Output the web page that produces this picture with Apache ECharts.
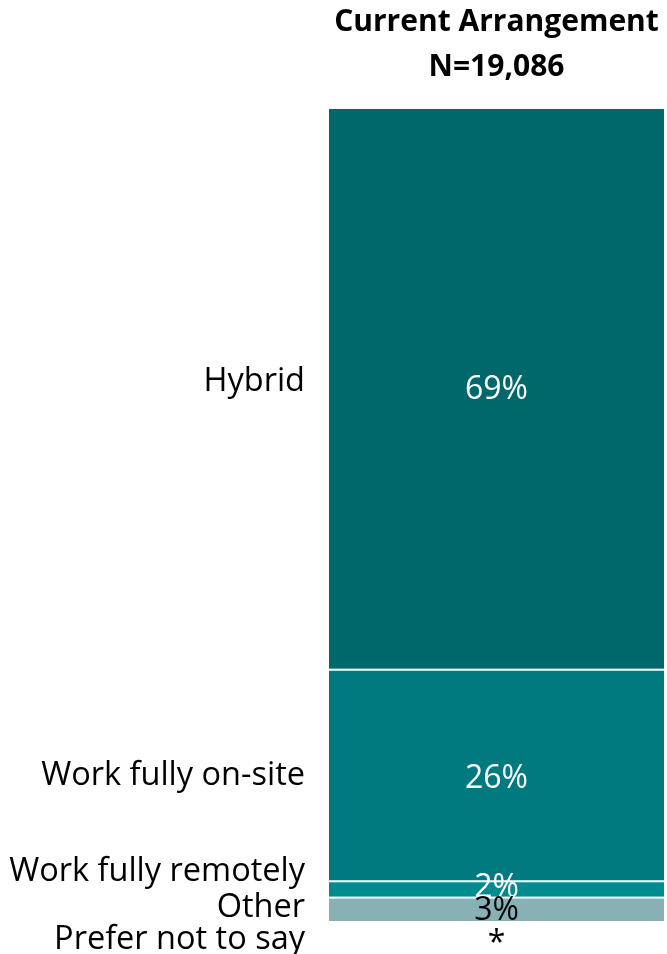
<!DOCTYPE html>
<html>
<head>
<meta charset="utf-8">
<style>
  html, body { margin: 0; padding: 0; background: #ffffff; }
  #chart { width: 667px; height: 954px; }
</style>
<script src="https://cdn.jsdelivr.net/npm/echarts@6/dist/echarts.min.js"></script>
</head>
<body>
<div id="chart"></div>
<script>
// Survey responses: current working arrangement
const columnTitle = 'Current Arrangement\nN=19,086';
const categories = ['Hybrid', 'Work fully on-site', 'Work fully remotely', 'Other', 'Prefer not to say'];
const values = [69, 26, 2, 3, 0];
const valueLabels = ['69%', '26%', '2%', '3%', '*'];

// Styling per segment
const colors = ['#00686b', '#007a7e', '#008b8f', '#87b1b5', '#cfe0e1'];
const valueColors = ['#ffffff', '#ffffff', '#ffffff', '#000000', '#000000'];
const nameOffsets = [[0, -7], [0, 0], [0, -18], [0, -2], [0, 18]];
const valueOffsets = [[0, 1], [0, 3], [0, -2], [0, 1], [0, 22]];

const FONT = '"Open Sans", Lato, sans-serif';

const series = [];
categories.forEach((name, i) => {
  // visible segment carrying its value label
  series.push({
    name: name,
    type: 'bar',
    stack: 'shares',
    barWidth: '100%',
    data: [values[i]],
    itemStyle: { color: colors[i], borderColor: '#ffffff', borderWidth: 1 },
    label: {
      show: true,
      position: 'inside',
      formatter: valueLabels[i],
      color: valueColors[i],
      fontFamily: FONT,
      fontSize: 32,
      offset: valueOffsets[i]
    },
    z: 2
  });
  // transparent twin segment carrying the category name to the left
  series.push({
    name: name + ' label',
    type: 'bar',
    stack: 'names',
    barWidth: '100%',
    barGap: '-100%',
    data: [values[i]],
    silent: true,
    itemStyle: { color: 'transparent' },
    label: {
      show: true,
      position: 'left',
      distance: 23,
      formatter: name,
      color: '#000000',
      fontFamily: FONT,
      fontSize: 32.5,
      offset: nameOffsets[i]
    },
    z: 3
  });
});

const chart = echarts.init(document.getElementById('chart'), null, { renderer: 'canvas' });
chart.setOption({
  animation: false,
  backgroundColor: '#ffffff',
  grid: { left: 328, right: 2, top: 108, bottom: 32, containLabel: false, outerBoundsMode: 'none' },
  xAxis: {
    type: 'category',
    position: 'top',
    data: [columnTitle],
    axisLine: { show: false },
    axisTick: { show: false },
    axisLabel: {
      color: '#000000',
      fontFamily: FONT,
      fontWeight: 'bold',
      fontSize: 30,
      lineHeight: 45,
      margin: 18
    }
  },
  yAxis: {
    type: 'value',
    min: 0,
    max: 100,
    inverse: true,
    show: false,
    splitLine: { show: false }
  },
  series: series
});
</script>
</body>
</html>
